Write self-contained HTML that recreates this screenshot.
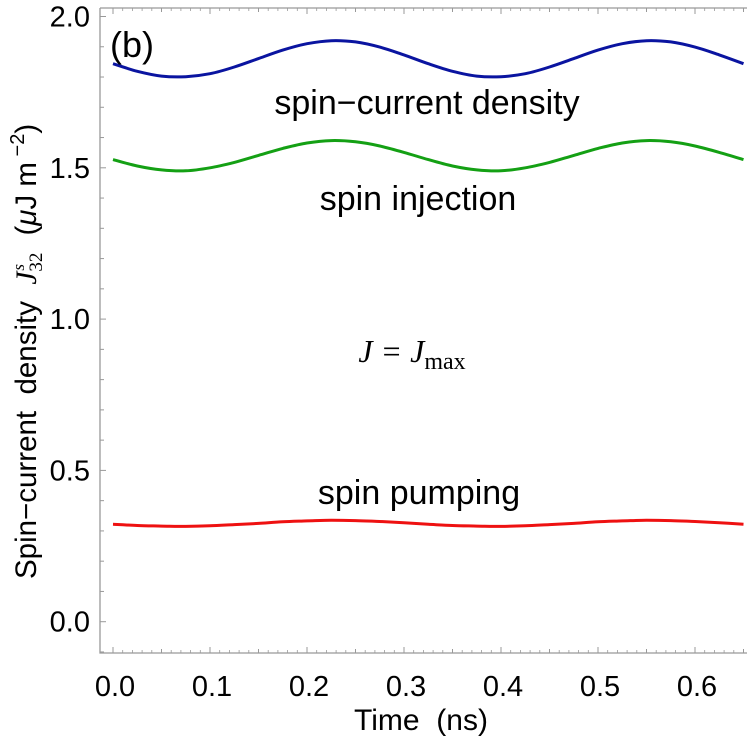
<!DOCTYPE html>
<html><head><meta charset="utf-8"><style>
body{margin:0;background:#fff}
svg{display:block;font-family:"Liberation Sans",sans-serif}
</style></head><body>
<svg id="chart" width="747" height="744" viewBox="0 0 747 744"></svg>
<script>
const times=[0,0.025,0.05,0.075,0.1,0.125,0.15,0.175,0.2,0.225,0.25,0.275,0.3,0.325,0.35,0.375,0.4,0.425,0.45,0.475,0.5,0.525,0.55,0.575,0.6,0.625,0.65];
const spinCurrentDensity=[1.844,1.819,1.803,1.801,1.811,1.833,1.861,1.889,1.910,1.920,1.916,1.899,1.873,1.844,1.819,1.803,1.801,1.811,1.833,1.861,1.889,1.910,1.920,1.916,1.899,1.873,1.844];
const spinInjection=[1.527,1.506,1.493,1.490,1.500,1.518,1.541,1.564,1.582,1.590,1.586,1.572,1.551,1.527,1.506,1.493,1.490,1.500,1.518,1.541,1.564,1.582,1.590,1.586,1.572,1.551,1.527];
const spinPumping=[0.322,0.318,0.316,0.315,0.317,0.321,0.325,0.330,0.333,0.335,0.334,0.331,0.327,0.322,0.318,0.316,0.315,0.317,0.321,0.325,0.330,0.333,0.335,0.334,0.331,0.327,0.322];
const xTicks=[0,0.1,0.2,0.3,0.4,0.5,0.6];
const xTickLabels=["0.0","0.1","0.2","0.3","0.4","0.5","0.6"];
const yTicks=[0,0.5,1.0,1.5,2.0];
const yTickLabels=["0.0","0.5","1.0","1.5","2.0"];

const NS="http://www.w3.org/2000/svg";
const svg=document.getElementById('chart');
const X=t=>113+t*970;
const Y=v=>621.7-v*302.6;
function mk(tag,attrs,parent){const e=document.createElementNS(NS,tag);for(const k in attrs)e.setAttribute(k,attrs[k]);(parent||svg).appendChild(e);return e;}
const ax='#999';
let e=mk('path',{d:'M100,8 V653 H747 M100,8 H747',stroke:ax,'stroke-width':1.3,fill:'none'});


for(let i=0;i<=13;i++){const t=i*0.05;const maj=i%2===0;
 mk('line',{x1:X(t),x2:X(t),y1:653,y2:653-(maj?6:4),stroke:ax,'stroke-width':1});
 mk('line',{x1:X(t),x2:X(t),y1:8,y2:8+(maj?6:4),stroke:ax,'stroke-width':1});}
for(let i=0;i<=65;i++){const t=i*0.01;if(i%5===0)continue;
 mk('line',{x1:X(t),x2:X(t),y1:653,y2:650,stroke:ax,'stroke-width':0.8});
 mk('line',{x1:X(t),x2:X(t),y1:8,y2:11,stroke:ax,'stroke-width':0.8});}
for(let i=-1;i<=20;i++){const v=i*0.1;const y=Y(v);if(y<8||y>653)continue;const maj=i%5===0;
 mk('line',{x1:100,x2:100+(maj?6:4),y1:y,y2:y,stroke:ax,'stroke-width':1});}
xTicks.forEach((t,i)=>{const el=mk('text',{x:X(t)+2,y:696,'font-size':29,'text-anchor':'middle',fill:'#000'});el.textContent=xTickLabels[i];
 
 });
yTicks.forEach((v,i)=>{const el=mk('text',{x:90,y:Y(v)+10,'font-size':29,'text-anchor':'end',fill:'#000'});el.textContent=yTickLabels[i];
 
 });
function series(arr,color,name){
 const P=arr.map((v,i)=>[X(times[i]),Y(v)]);
 let d='M'+P[0][0].toFixed(1)+','+P[0][1].toFixed(1);
 for(let i=0;i<P.length-1;i++){const p0=P[Math.max(0,i-1)],p1=P[i],p2=P[i+1],p3=P[Math.min(P.length-1,i+2)];
  const c1=[p1[0]+(p2[0]-p0[0])/6,p1[1]+(p2[1]-p0[1])/6],c2=[p2[0]-(p3[0]-p1[0])/6,p2[1]-(p3[1]-p1[1])/6];
  d+=' C'+c1.map(n=>n.toFixed(1))+' '+c2.map(n=>n.toFixed(1))+' '+p2.map(n=>n.toFixed(1));}
 const p=mk('path',{d:d,stroke:color,'stroke-width':3,fill:'none'});
 
 }
series(spinCurrentDensity,'#0a14a0','spin-current-density-line');
series(spinInjection,'#14a014','spin-injection-line');
series(spinPumping,'#ee1111','spin-pumping-line');
</script>
<svg style="position:absolute;left:0;top:0" width="747" height="744">
<text x="110" y="57" font-size="36" font-family="Liberation Sans,sans-serif">(b)</text>
<text x="427" y="114" font-size="34" text-anchor="middle" font-family="Liberation Sans,sans-serif">spin−current density</text>
<text x="418" y="210" font-size="34" text-anchor="middle" font-family="Liberation Sans,sans-serif">spin injection</text>
<text x="412" y="362" font-size="32" text-anchor="middle" font-family="Liberation Serif,serif" font-style="italic">J = J<tspan font-style="normal" font-size="24" dy="7">max</tspan></text>
<text x="419" y="504" font-size="34" text-anchor="middle" font-family="Liberation Sans,sans-serif">spin pumping</text>
<text x="421" y="730" font-size="30" text-anchor="middle" font-family="Liberation Sans,sans-serif">Time&#160;&#160;(ns)</text>
<text transform="translate(36,579) rotate(-90)" font-size="29.5" text-anchor="start" font-family="Liberation Sans,sans-serif">Spin−current&#160;&#160;density&#160;&#160;<tspan font-family="Liberation Serif,serif" font-style="italic">J</tspan><tspan font-family="Liberation Serif,serif" font-size="19" dy="6">32</tspan><tspan font-family="Liberation Serif,serif" font-style="italic" font-size="17" dy="-18" dx="-18">s</tspan><tspan dy="12" dx="12">&#160;&#160;(</tspan><tspan font-style="italic">μ</tspan><tspan>J m</tspan><tspan font-size="20" dy="-12"> −2</tspan><tspan dy="12">)</tspan></text>
</svg>
</body></html>
